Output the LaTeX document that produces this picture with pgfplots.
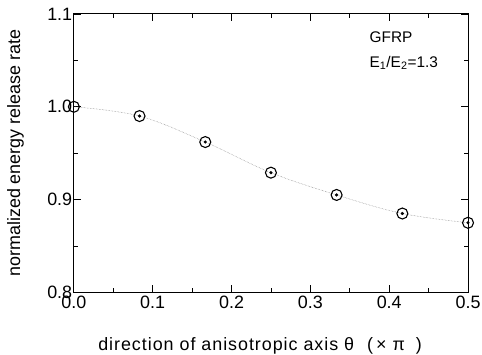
\documentclass[border=0pt]{standalone}
\usepackage{pgfplots}
\pgfplotsset{compat=1.18}
\usepackage{fontspec}
\setmainfont{Liberation Sans}
\begin{document}
\begin{tikzpicture}[x=1bp,y=1bp]
\begin{axis}[
  scale only axis,
  width=395bp, height=279bp,
  xmin=0, xmax=0.5, ymin=0.8, ymax=1.1,
  xtick={0,0.1,0.2,0.3,0.4,0.5},
  ytick={0.8,0.9,1.0,1.1},
  minor xtick={0.05,0.15,0.25,0.35,0.45},
  minor ytick={0.85,0.95,1.05},
  xticklabels={0.0,0.1,0.2,0.3,0.4,0.5},
  yticklabels={0.8,0.9,1.0,1.1},
  tick align=inside,
  major tick length=7bp, minor tick length=4bp,
  every tick/.style={black, line width=0.8pt},
  axis line style={line width=1pt},
  tick label style={font=\fontsize{18}{18}\selectfont},
  /pgf/number format/assume math mode=true,
  xticklabel style={inner sep=3.5bp},
  yticklabel style={inner sep=1.5bp},
  xlabel={\addfontfeatures{LetterSpace=5.4}direction of anisotropic axis θ\hspace{13bp}(\hspace{3bp}×\hspace{6bp}π\hspace{11bp})},
  ylabel={normalized energy release rate},
  label style={font=\fontsize{18}{18}\selectfont},
  xlabel style={at={(axis description cs:0,0)}, anchor=west, xshift=21bp, yshift=-54bp},
  ylabel style={at={(axis description cs:-0.148,0.5)}, anchor=center},
  clip=false,
]
\coordinate (BL) at (rel axis cs:0,0);
\coordinate (TR) at (rel axis cs:1,1);
\addplot[gray, line width=0.5pt, densely dotted, smooth, tension=0.6] coordinates {
 (0,1.000) (0.0833,0.990) (0.1667,0.962) (0.25,0.929) (0.3333,0.905) (0.4167,0.885) (0.5,0.875)};
\addplot[only marks, mark=o, mark size=5.5bp, mark options={line width=1.1pt, black}] coordinates {
 (0,1.000) (0.0833,0.990) (0.1667,0.962) (0.25,0.929) (0.3333,0.905) (0.4167,0.885) (0.5,0.875)};
\addplot[only marks, mark=*, mark size=1.4bp, black] coordinates {
 (0.0833,0.990) (0.1667,0.962) (0.25,0.929) (0.3333,0.905) (0.4167,0.885) (0.5,0.875)};
\node[anchor=west, inner sep=0pt, font=\fontsize{15.5}{15.5}\selectfont] at (axis cs:0.375,1.0747) {GFRP};
\node[anchor=west, inner sep=0pt, font=\fontsize{15.5}{15.5}\selectfont] at (axis cs:0.375,1.0473) {E$_{\mathrm{1}}$/E$_{\mathrm{2}}$=1.3};
\end{axis}
\pgfresetboundingbox
\path ([xshift=-74bp,yshift=-62bp]BL) rectangle ([xshift=14bp,yshift=14bp]TR);
\end{tikzpicture}
\end{document}
